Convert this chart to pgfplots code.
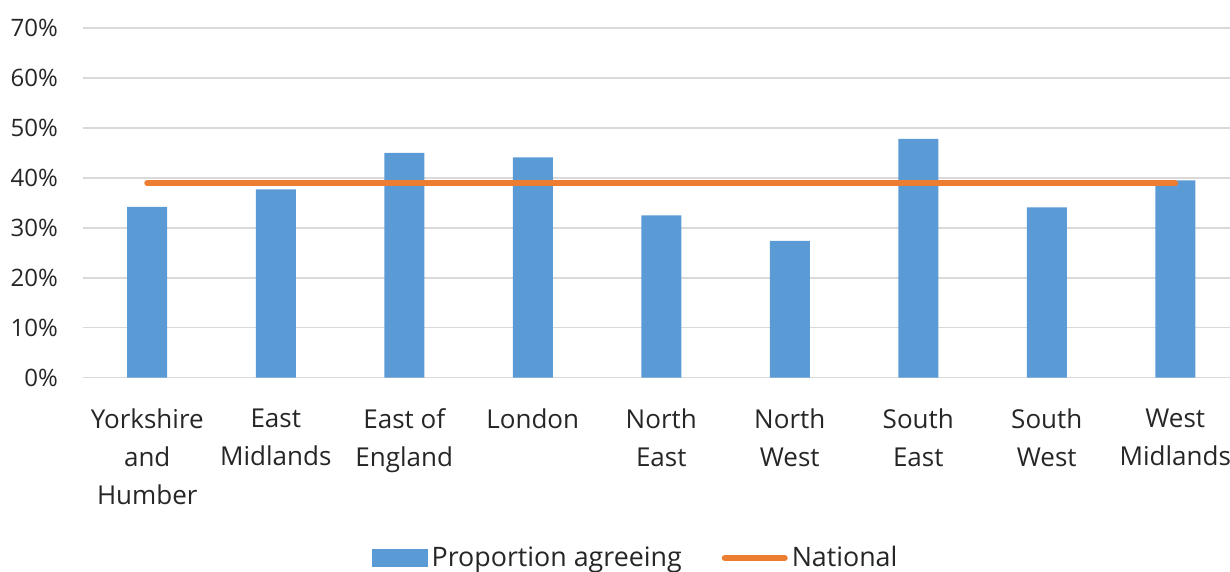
\documentclass[border=0pt]{standalone}
\usepackage{pgfplots}
\pgfplotsset{compat=1.18}
\usepackage{fontspec}
\setmainfont{Open Sans}
\definecolor{barblue}{HTML}{5B9BD5}
\definecolor{natorange}{HTML}{ED7D31}
\definecolor{gridgray}{HTML}{D9D9D9}
\definecolor{txt}{HTML}{262626}
\begin{document}
\begin{tikzpicture}
\begin{axis}[
 scale only axis, width=573.5pt, height=174.85pt,
 xmin=-0.5, xmax=8.426, ymin=0, ymax=70,
 axis line style={draw=none},
 major tick length=0pt,
 ytick={0,10,...,70},
 yticklabel={\pgfmathprintnumber{\tick}\%},
 /pgf/number format/assume math mode=true,
 ymajorgrids, grid style={gridgray, line width=0.75pt},
 xtick={0,...,8},
 xticklabels={Yorkshire\\and\\Humber, East\\Midlands, East of\\England, London, North\\East, North\\West, South\\East, South\\West, West\\Midlands},
 xticklabel style={align=center, font=\fontsize{13}{19}\selectfont, text=txt, yshift=-12pt},
 yticklabel style={font=\fontsize{12}{14}\selectfont, text=txt, xshift=-9pt},
 legend style={at={(0.4826,-0.5156)}, anchor=center, draw=none, legend columns=2, font=\fontsize{13.4}{15}\selectfont, text=txt, /tikz/every even column/.append style={column sep=18pt}},
 clip=false,
]
\addplot[ybar, bar width=20pt, fill=barblue, draw=none,
  legend image code/.code={\fill[barblue] (0pt,-4.5pt) rectangle (28pt,4.5pt);}]
  coordinates {(0,34.2) (1,37.7) (2,45.0) (3,44.1) (4,32.5) (5,27.4) (6,47.8) (7,34.1) (8,39.5)};
\addplot[natorange, line width=3pt, line cap=round, mark=none,
  legend image code/.code={\draw[natorange, line width=3pt, line cap=round] (0pt,0pt) -- (30pt,0pt);}]
  coordinates {(0,38.9) (8,38.9)};
\legend{Proportion agreeing, National}
\coordinate (BL) at (rel axis cs:0,0);
\coordinate (TR) at (rel axis cs:1,1);
\end{axis}
\pgfresetboundingbox
\path ([shift={(-41.5pt,-97.15pt)}]BL) rectangle ([shift={(0pt,14pt)}]TR);
\end{tikzpicture}
\end{document}
